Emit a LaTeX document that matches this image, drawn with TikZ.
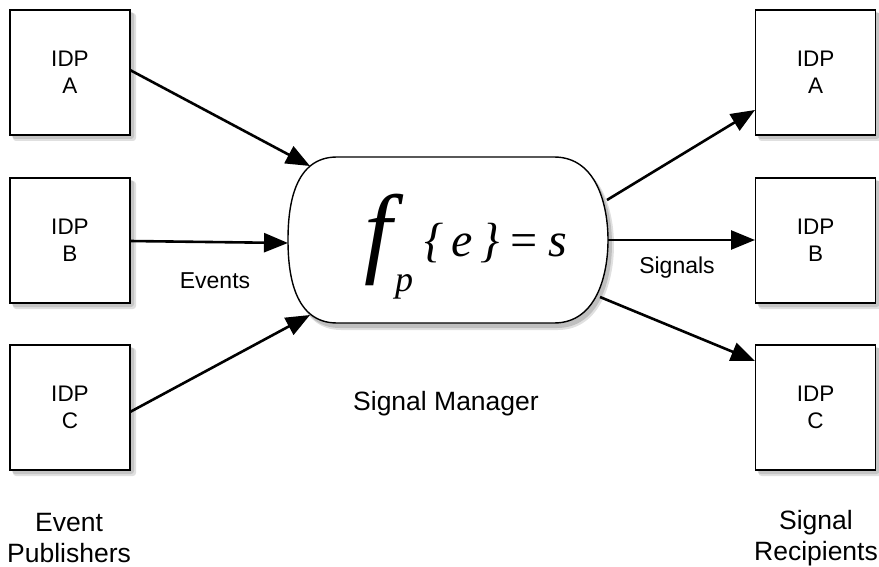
\documentclass[tikz,border=0pt]{standalone}
\usepackage{fontspec}
\setmainfont{Liberation Sans}
\newfontfamily\fmf{Liberation Serif}
\usetikzlibrary{arrows.meta}
\begin{document}
\begin{tikzpicture}[x=1pt,y=-1pt,
  idp/.style={draw,line width=1.4pt,fill=white,minimum width=120pt,minimum height=125pt,align=center,font=\fontsize{22.5}{27}\selectfont},
  shd/.style={fill=black,opacity=0.12,rounded corners=3pt},
  conn/.style={line width=2.6pt,-{Triangle[length=24pt,width=19pt]}},
  lbl/.style={font=\fontsize{23}{26}\selectfont},
  big/.style={font=\fontsize{26.5}{31}\selectfont,align=center},
  fml/.style={inner sep=0pt,anchor=base west}]
\useasboundingbox (0,0) rectangle (879,567);
% shadows
\foreach \x in {10,755.5}{
  \foreach \y in {10,178,345}{
    \fill[shd] (\x+2,\y+2) rectangle (\x+124,\y+129);
    \fill[shd] (\x+3,\y+3) rectangle (\x+126,\y+131);
  }}
\node[idp] (la) at (70,72.5) {IDP\\A};
\node[idp] (lb) at (70,240.5) {IDP\\B};
\node[idp] (lc) at (70,407.5) {IDP\\C};
\node[idp] (ra) at (815.5,72.5) {IDP\\A};
\node[idp] (rb) at (815.5,240.5) {IDP\\B};
\node[idp] (rc) at (815.5,407.5) {IDP\\C};
% signal manager
\fill[black,opacity=0.15] (340,161) -- (557,161) .. controls (600,161) and (612,210) .. (612,244) .. controls (612,278) and (600,328) .. (557,328) -- (340,328) .. controls (297,328) and (291,278) .. (291,244) .. controls (291,210) and (297,161) .. (340,161) -- cycle;
\fill[black,opacity=0.12] (341,162) -- (558,162) .. controls (601,162) and (614,210) .. (614,245) .. controls (614,280) and (601,330) .. (558,330) -- (341,330) .. controls (298,330) and (292,280) .. (292,245) .. controls (292,210) and (298,162) .. (341,162) -- cycle;
\draw[line width=1.4pt,fill=white] (337,157) -- (554,157) .. controls (597,157) and (608,206) .. (608,240) .. controls (608,274) and (597,323) .. (554,323) -- (337,323) .. controls (294,323) and (288,274) .. (288,240) .. controls (288,206) and (294,157) .. (337,157) -- cycle;
% formula
\node[fml,font=\fmf\itshape\fontsize{100}{100}\selectfont] (ff) at (364,264) {f};
\node[fml,font=\fmf\itshape\fontsize{36}{36}\selectfont] (fp) at (395,291) {p};
\node[fml,font=\fmf\itshape\fontsize{48}{48}\selectfont] (fr) at (424,257) {\{\,e\,\}\,=\,s};
\coordinate (la1) at (310,166);
\coordinate (lb1) at (288,243);
\coordinate (lc1) at (310,315);
\coordinate (ra0) at (607,200);
\coordinate (ra1) at (755,110);
\coordinate (rb0) at (608,240);
\coordinate (rb1) at (755,240);
\coordinate (rc0) at (600,297);
\coordinate (rc1) at (755,361);
\coordinate (la0) at (130,70);
\coordinate (lb0) at (130,241);
\coordinate (lc0) at (130,412);
\draw[conn] (la0) -- (la1);
\draw[conn] (lb0) -- (lb1);
\draw[conn] (lc0) -- (lc1);
\draw[conn] (ra0) -- (ra1);
\draw[conn] (rb0) -- (rb1);
\draw[conn] (rc0) -- (rc1);
\node[lbl] (ev) at (215,281) {Events};
\node[lbl] (sg) at (677,268) {Signals};
\node[big] (smt) at (446,404) {Signal Manager};
\node[big] (ep) at (69,538) {Event\\Publishers};
\node[big] (sr) at (816,538) {Signal\\Recipients};
\end{tikzpicture}
\end{document}
